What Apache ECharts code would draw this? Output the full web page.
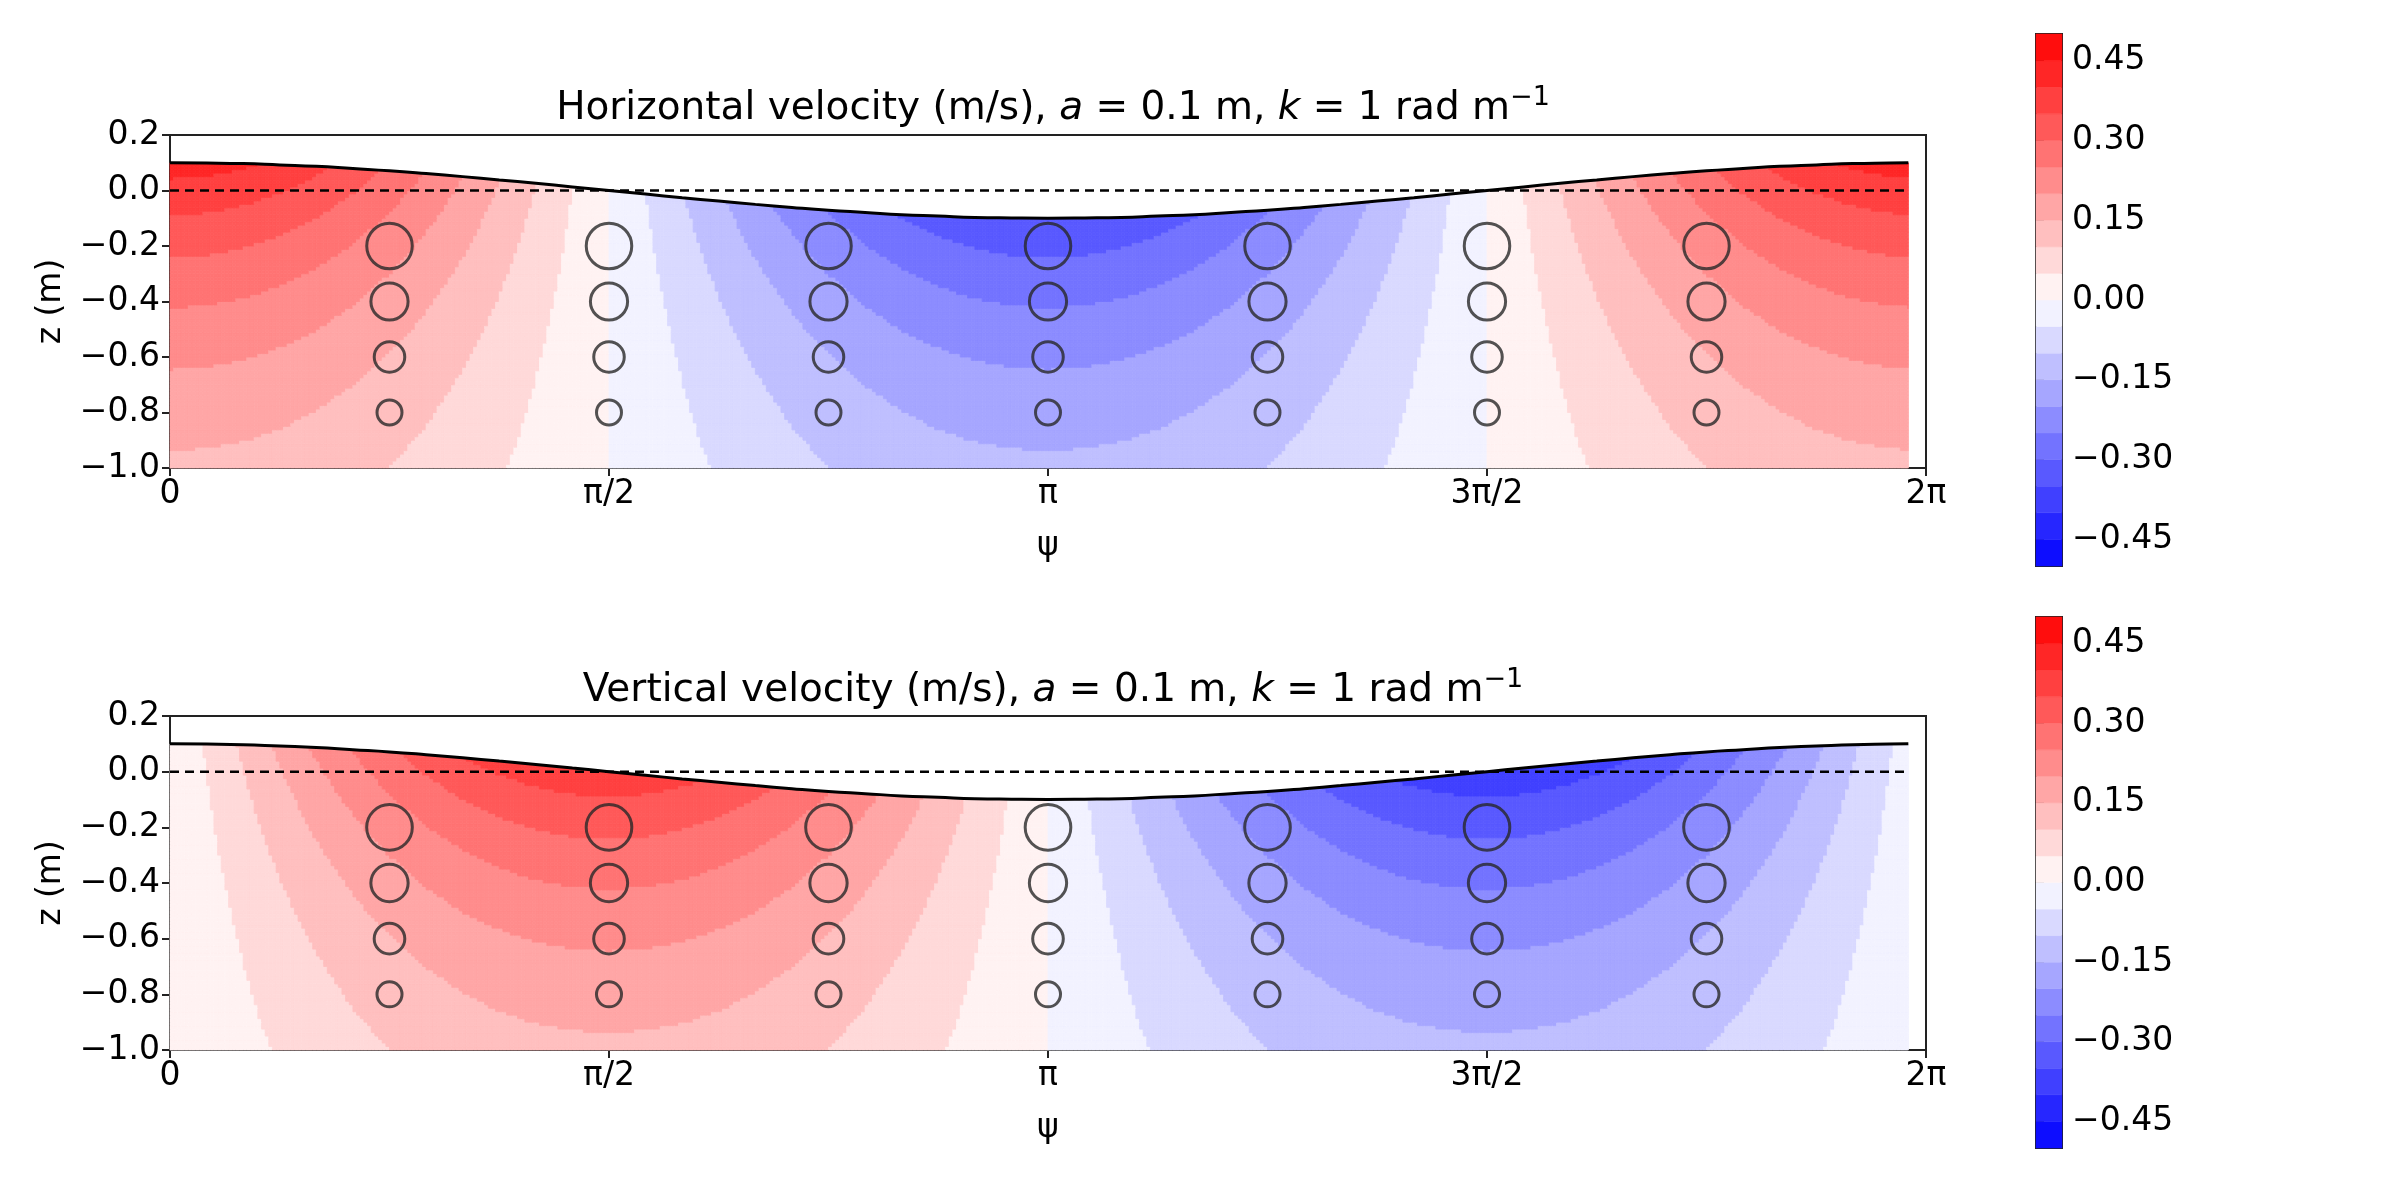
<!DOCTYPE html>
<html>
<head>
<meta charset="UTF-8">
<title>wave velocity</title>
<script src="https://cdn.jsdelivr.net/npm/echarts@6/dist/echarts.min.js"></script>
<style>html,body{margin:0;padding:0;background:#fff}#c{width:2400px;height:1200px}</style>
</head>
<body>
<div id="c"></div>
<script>
// phase shape read at psi = k*pi/24, k = 0..48
var phaseU = [1,.991,.966,.924,.866,.793,.707,.609,.5,.383,.259,.131,0,-.131,-.259,-.383,-.5,-.609,-.707,-.793,-.866,-.924,-.966,-.991,-1,
  -.991,-.966,-.924,-.866,-.793,-.707,-.609,-.5,-.383,-.259,-.131,0,.131,.259,.383,.5,.609,.707,.793,.866,.924,.966,.991,1];
var phaseW = [0,.131,.259,.383,.5,.609,.707,.793,.866,.924,.966,.991,1,.991,.966,.924,.866,.793,.707,.609,.5,.383,.259,.131,0,
  -.131,-.259,-.383,-.5,-.609,-.707,-.793,-.866,-.924,-.966,-.991,-1,-.991,-.966,-.924,-.866,-.793,-.707,-.609,-.5,-.383,-.259,-.131,0];
// free surface elevation (m) at the same psi nodes
var surfEta = [.1,.099,.097,.092,.087,.079,.071,.061,.05,.038,.026,.013,0,-.013,-.026,-.038,-.05,-.061,-.071,-.079,-.087,-.092,-.097,-.099,-.1,
  -.099,-.097,-.092,-.087,-.079,-.071,-.061,-.05,-.038,-.026,-.013,0,.013,.026,.038,.05,.061,.071,.079,.087,.092,.097,.099,.1];
var surfEnd = [6.22, 0.1];   // last plotted surface point
// velocity amplitude (m/s) at depth nodes z = -1.0, -0.95, ... 0.1
var depthAmp = [.141,.148,.156,.164,.172,.180,.190,.199,.209,.220,.232,.243,.256,.269,.283,.298,.313,.329,.346,.364,.383,.403,.423];
// particle orbits
var orbitPsi = [Math.PI/4, Math.PI/2, 3*Math.PI/4, Math.PI, 5*Math.PI/4, 3*Math.PI/2, 7*Math.PI/4];
var orbitZ = [-0.2,-0.4,-0.6,-0.8];
var orbitR = [0.082,0.067,0.055,0.045];
var cbTicks = [-0.45,-0.30,-0.15,0,0.15,0.30,0.45];

var PSI_MAX = 6.22, DZ = 0.05, SX = 10, SZ = 4;
var psiNodes = phaseU.map(function(_, k){ return k*Math.PI/24; });

function bandColor(v){
  var b = Math.floor((v+0.5)/0.05);
  b = Math.max(0, Math.min(19, b));
  var c = -0.475 + b*0.05;
  var t = Math.abs(c)/0.5, s = Math.round(255*(1-t));
  return c < 0 ? 'rgb('+s+','+s+',255)' : 'rgb(255,'+s+','+s+')';
}

function fieldSeries(phase, gi){
  var cells = [];
  for (var i=0;i<psiNodes.length-1;i++) for (var j=0;j<depthAmp.length-1;j++) cells.push([i,j]);
  return {
    type:'custom', xAxisIndex:gi, yAxisIndex:gi, silent:true, z:1,
    data: cells,
    renderItem: function(params, api){
      var i = api.value(0), j = api.value(1);
      if (psiNodes[i] >= PSI_MAX) return;
      var kids = [];
      var dx = (psiNodes[i+1]-psiNodes[i])/SX;
      for (var a=0;a<SX;a++){
        var fa = (a+0.5)/SX;
        var x0 = psiNodes[i]+a*dx, x1 = Math.min(x0+dx, PSI_MAX);
        if (x0 >= PSI_MAX) break;
        var ph = phase[i]*(1-fa)+phase[i+1]*fa;
        var ga = a/SX, gb = (a+1)/SX;
        var e0 = surfEta[i]*(1-ga)+surfEta[i+1]*ga, e1 = surfEta[i]*(1-gb)+surfEta[i+1]*gb;
        for (var b=0;b<SZ;b++){
          var fb = (b+0.5)/SZ;
          var zLo = -1 + DZ*(j+b/SZ), zHi = zLo + DZ/SZ;
          if (zLo >= Math.max(e0,e1)) continue;
          var t0 = Math.max(zLo, Math.min(zHi,e0)), t1 = Math.max(zLo, Math.min(zHi,e1));
          var amp = depthAmp[j]*(1-fb)+depthAmp[j+1]*fb;
          var col = bandColor(amp*ph);
          kids.push({type:'polygon', shape:{points:[api.coord([x0,zLo]),api.coord([x1,zLo]),api.coord([x1,t1]),api.coord([x0,t0])]},
            style:{fill:col, stroke:col, lineWidth:0.8}});
        }
      }
      return {type:'group', children:kids};
    }
  };
}

function orbitSeries(gi){
  var d = [];
  orbitPsi.forEach(function(p){ orbitZ.forEach(function(z,k){ d.push([p,z,orbitR[k]]); }); });
  return {
    type:'custom', xAxisIndex:gi, yAxisIndex:gi, silent:true, z:5, data:d,
    renderItem: function(params, api){
      var c = api.coord([api.value(0), api.value(1)]);
      var r = api.size([0, api.value(2)])[1];
      return {type:'circle', shape:{cx:c[0], cy:c[1], r:r},
        style:{fill:'none', stroke:'rgba(40,40,40,0.8)', lineWidth:3}};
    }
  };
}

function surfData(){
  var d = [];
  for (var k=0;k<psiNodes.length;k++){ if (psiNodes[k] <= PSI_MAX) d.push([psiNodes[k], surfEta[k]]); }
  d.push(surfEnd);
  return d;
}

var FONT = 'DejaVu Sans', FS = 33;
var piLab = {0:'0',1:'π/2',2:'π',3:'3π/2',4:'2π'};
function fmtMinus(v, dec){ var s = Math.abs(v).toFixed(dec); return (v < -1e-9 ? '−' : '') + s; }

function xAx(gi){
  return {gridIndex:gi, type:'value', min:0, max:2*Math.PI, interval:Math.PI/2,
    name:'ψ', nameLocation:'middle', nameGap:62, nameTextStyle:{fontFamily:FONT,fontSize:FS,color:'#000'},
    axisLine:{onZero:false, lineStyle:{color:'#222',width:2}}, axisTick:{length:8,lineStyle:{color:'#222',width:2}},
    axisLabel:{fontFamily:FONT,fontSize:FS,color:'#000',margin:10,formatter:function(v){ return piLab[Math.round(v/(Math.PI/2))]; }},
    splitLine:{show:false}};
}
function yAx(gi){
  return {gridIndex:gi, type:'value', min:-1.0, max:0.2, interval:0.2,
    name:'z (m)', nameLocation:'middle', nameRotate:90, nameGap:102, nameTextStyle:{fontFamily:FONT,fontSize:FS,color:'#000'},
    axisLine:{onZero:false, lineStyle:{color:'#222',width:2}}, axisTick:{length:8,lineStyle:{color:'#222',width:2}},
    axisLabel:{fontFamily:FONT,fontSize:FS,color:'#000',margin:10,formatter:function(v){ return fmtMinus(v,1); }},
    splitLine:{show:false}};
}
function cbX(gi){ return {gridIndex:gi, type:'value', min:0, max:1, show:false}; }
function cbY(gi){
  return {gridIndex:gi, type:'value', min:-0.5, max:0.5, position:'right',
    axisLine:{show:false}, splitLine:{show:false},
    axisTick:{show:true, customValues:cbTicks, length:8, lineStyle:{color:'#222',width:2}},
    axisLabel:{show:true, customValues:cbTicks, fontFamily:FONT, fontSize:FS, color:'#000', margin:10,
      formatter:function(v){ return fmtMinus(v,2); }}};
}
function cbSeries(gi){
  var bands = []; for (var b=0;b<20;b++) bands.push(b);
  return {type:'custom', xAxisIndex:gi, yAxisIndex:gi, silent:true, data:bands,
    renderItem:function(params, api){
      var b = api.value(0), lo = -0.5+b*0.05;
      var p0 = api.coord([0, lo+0.05]), p1 = api.coord([1, lo]);
      var col = bandColor(lo+0.025);
      return {type:'rect', shape:{x:p0[0], y:p0[1], width:p1[0]-p0[0], height:p1[1]-p0[1]}, style:{fill:col, stroke:col, lineWidth:0.5}};
    }};
}

function titleRich(first, top){
  return {text:'{n|'+first+', }{i|a}{n| = 0.1 m, }{i|k}{n| = 1 rad m}{s|−1}', left:1048, top:top, textAlign:'center',
    textStyle:{fontWeight:'normal', rich:{
      n:{fontFamily:FONT,fontSize:39,fontWeight:'normal',color:'#000'},
      i:{fontFamily:FONT,fontSize:39,fontStyle:'italic',fontWeight:'normal',color:'#000'},
      s:{fontFamily:FONT,fontSize:27,fontWeight:'normal',color:'#000',verticalAlign:'top',padding:[0,0,22,0]}}}};
}

var chart = echarts.init(document.getElementById('c'));
chart.setOption({
  animation:false,
  title:[titleRich('Horizontal velocity (m/s)', 79), titleRich('Vertical velocity (m/s)', 661)],
  grid:[
    {left:170, top:135, width:1756, height:333, show:true, borderColor:'#222', borderWidth:2, backgroundColor:'transparent'},
    {left:170, top:716, width:1756, height:334, show:true, borderColor:'#222', borderWidth:2, backgroundColor:'transparent'},
    {left:2036, top:34, width:26, height:532, show:true, borderColor:'#222', borderWidth:2},
    {left:2036, top:617, width:26, height:531, show:true, borderColor:'#222', borderWidth:2}
  ],
  xAxis:[xAx(0), xAx(1), cbX(2), cbX(3)],
  yAxis:[yAx(0), yAx(1), cbY(2), cbY(3)],
  series:[
    fieldSeries(phaseU, 0),
    fieldSeries(phaseW, 1),
    orbitSeries(0), orbitSeries(1),
    {type:'line', xAxisIndex:0, yAxisIndex:0, data:surfData(), symbol:'none', smooth:true, z:6, lineStyle:{color:'#000',width:3}},
    {type:'line', xAxisIndex:1, yAxisIndex:1, data:surfData(), symbol:'none', smooth:true, z:6, lineStyle:{color:'#000',width:3}},
    {type:'line', xAxisIndex:0, yAxisIndex:0, data:[[0,0],[PSI_MAX,0]], symbol:'none', z:6, lineStyle:{color:'#000',width:2.5,type:[9,6]}},
    {type:'line', xAxisIndex:1, yAxisIndex:1, data:[[0,0],[PSI_MAX,0]], symbol:'none', z:6, lineStyle:{color:'#000',width:2.5,type:[9,6]}},
    cbSeries(2), cbSeries(3)
  ]
});
</script>
</body>
</html>
